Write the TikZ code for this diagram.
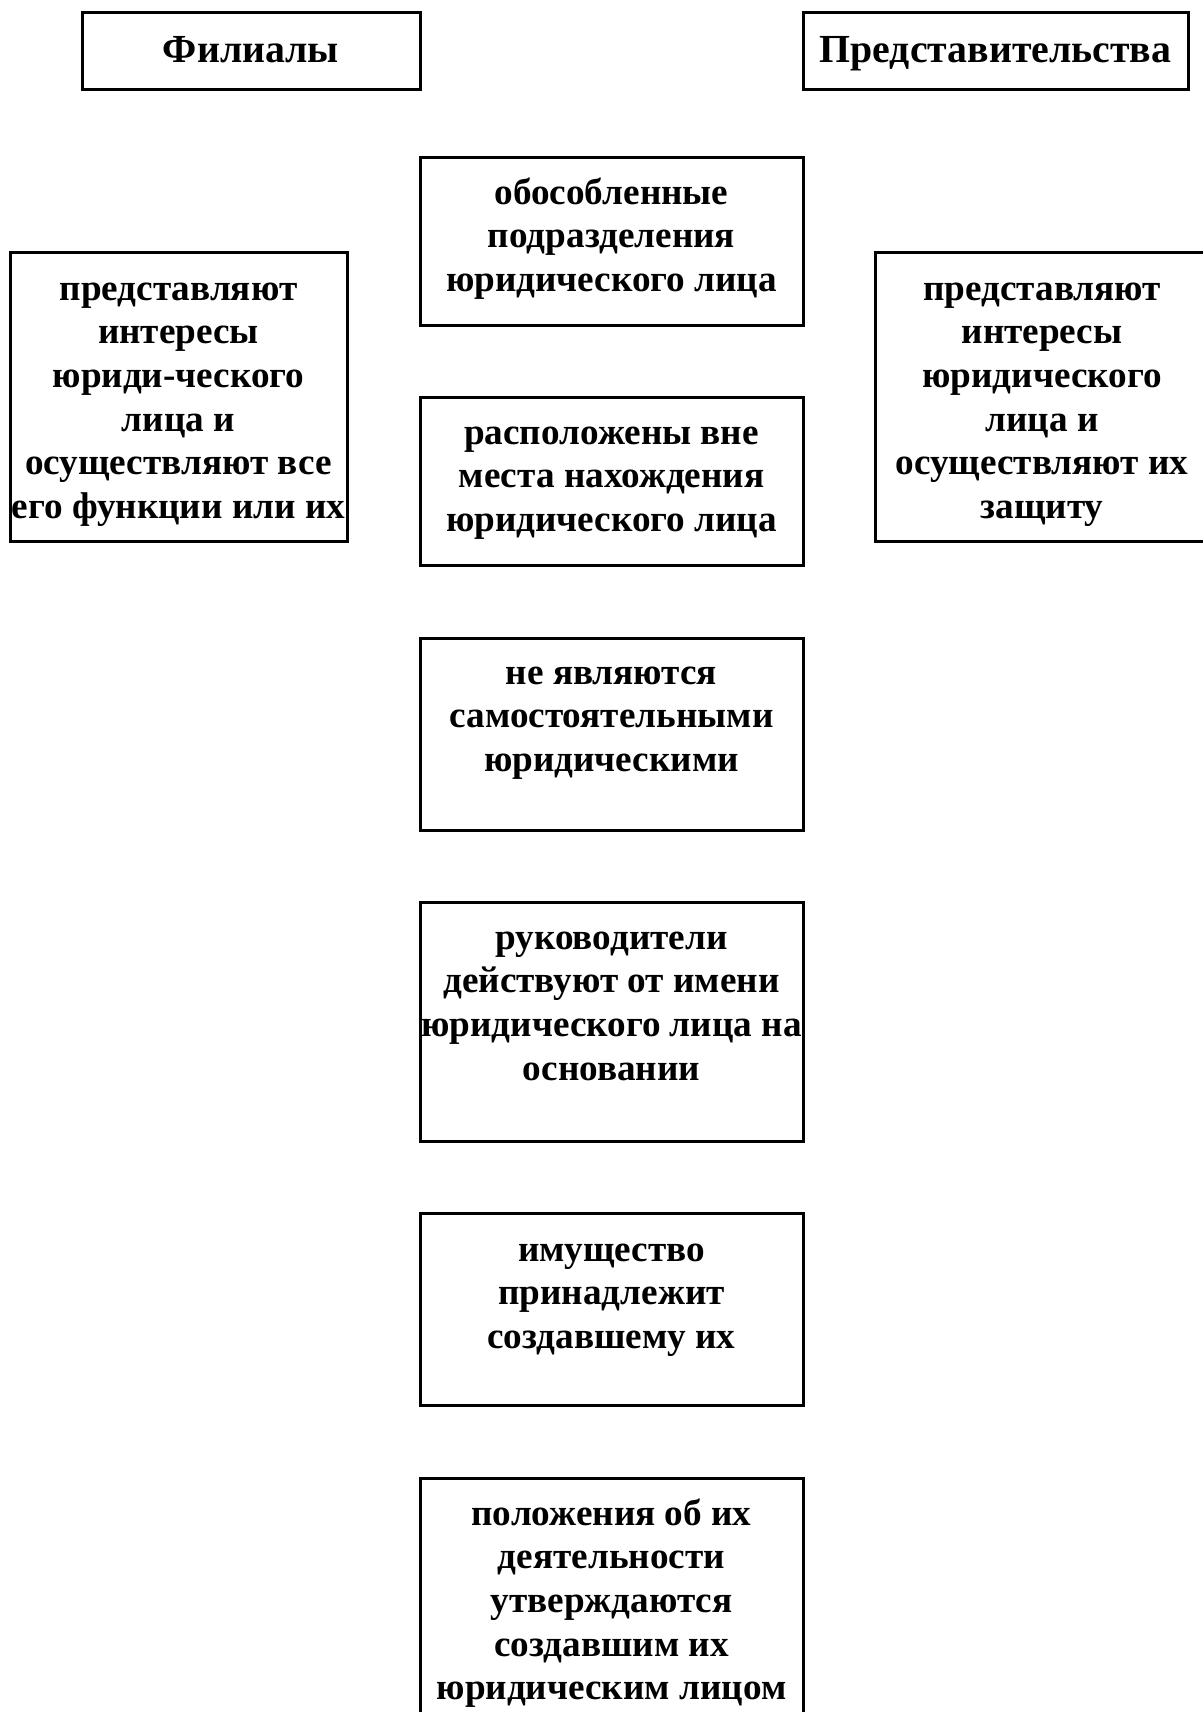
\documentclass[tikz,border=0pt]{standalone}
\usepackage{fontspec}
\setmainfont{Liberation Serif}
\usetikzlibrary{fit}
\tikzset{
  box/.style={draw=black, line width=1.5pt, inner sep=0pt, rectangle},
  txt/.style={align=center, inner sep=0pt, anchor=base,
    font=\bfseries\fontsize{18.6}{21.85}\selectfont},
  head/.style={txt, font=\bfseries\fontsize{19.9}{23}\selectfont},
}
\begin{document}
\begin{tikzpicture}[x=0.5pt, y=-0.5pt]
\useasboundingbox (0,0) rectangle (1203,1712);
\fill[white] (0,0) rectangle (1203,1712);
\clip (0,0) rectangle (1203,1712);
% header boxes
\node[box, fit={(82,13) (420,90)}] (fil) {};
\node[head] (filT) at (251,63) {Филиалы};
\node[box, fit={(803,13) (1188,90)}] (pred) {};
\node[head] (predT) at (995.5,63) {Представительства};
% side boxes
\node[box, fit={(10,253) (347,541)}] (lbox) {};
\node[txt] (lboxT) at (178.5,518.5) {представляют\\интересы\\юриди-ческого\\лица и\\осуществляют все\\его функции или их};
\node[box, fit={(875,253) (1212,541)}] (rbox) {};
\node[txt] (rboxT) at (1042,518.5) {представляют\\интересы\\юридического\\лица и\\осуществляют их\\защиту};
% center column
\node[box, fit={(420,158) (803,325)}] (c1) {};
\node[txt] (c1T) at (611.5,291.4) {обособленные\\подразделения\\юридического лица};
\node[box, fit={(420,397) (803,565)}] (c2) {};
\node[txt] (c2T) at (611.5,531.4) {расположены вне\\места нахождения\\юридического лица};
\node[box, fit={(420,638) (803,830)}] (c3) {};
\node[txt] (c3T) at (611.5,771.4) {не являются\\самостоятельными\\юридическими};
\node[box, fit={(420,902) (803,1141)}] (c4) {};
\node[txt] (c4T) at (611.5,1080.1) {руководители\\действуют от имени\\юридического лица на\\основании};
\node[box, fit={(420,1213) (803,1405)}] (c5) {};
\node[txt] (c5T) at (611.5,1348.4) {имущество\\принадлежит\\создавшему их};
\node[box, fit={(420,1478) (803,1730)}] (c6) {};
\node[txt] (c6T) at (611.5,1699.8) {положения об их\\деятельности\\утверждаются\\создавшим их\\юридическим лицом};
\end{tikzpicture}
\end{document}
